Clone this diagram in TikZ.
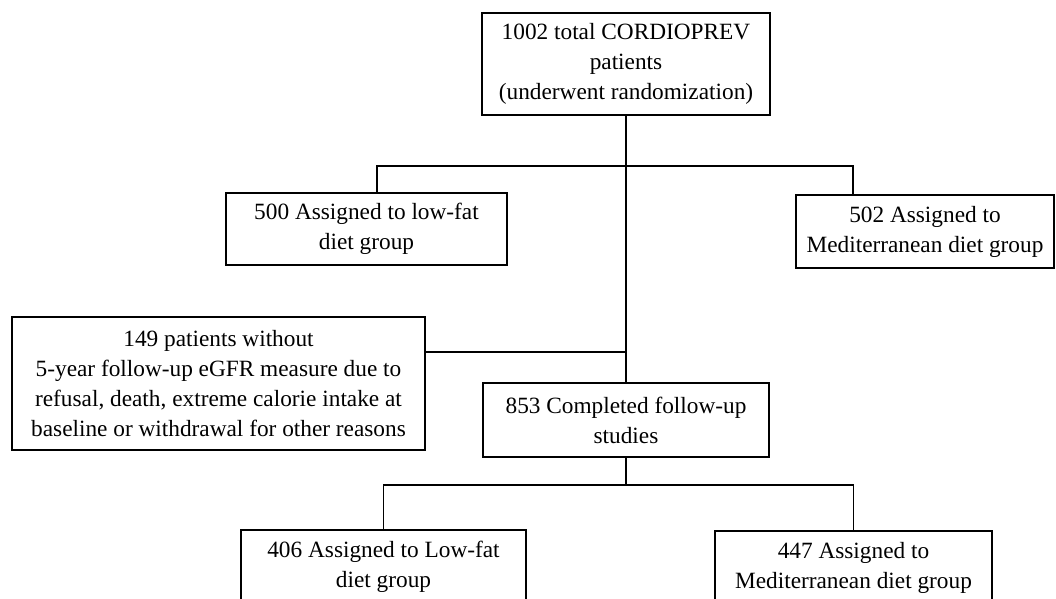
\documentclass[tikz,border=0pt]{standalone}
\usepackage{fontspec}
\setmainfont{Liberation Serif}
\usetikzlibrary{positioning}
\tikzstyle{block} = [rectangle, draw, line width=2pt, align=center,
    inner sep=2pt, font=\fontsize{23.3}{30}\selectfont]
\tikzstyle{link} = [draw, line width=1.2pt]

\begin{document}
\begin{tikzpicture}[x=1pt,y=1pt]
  \useasboundingbox (0,0) rectangle (1056,-598);
  % Place nodes
  \node [block, minimum width=288pt, minimum height=102pt] (total) at (626,-64)
  {1002 total CORDIOPREV\\patients\\(underwent randomization)};
  \node [block, below of=total, node distance=356pt, minimum width=286pt, minimum height=74pt] (completed)
  {853 Completed follow-up\\studies};
  \node [block, minimum width=281pt, minimum height=72pt] (lowfat1) at (366.5,-229)
  {500 Assigned to low-fat\\diet group};
  \node [block, minimum width=258pt, minimum height=73pt] (med1) at (925,-231.5)
  {502 Assigned to\\Mediterranean diet group};
  \node [block, line width=1.3pt, minimum width=413pt, minimum height=133pt] (excluded) at (218.5,-383.5)
  {149 patients without\\5-year follow-up eGFR measure due to\\refusal, death, extreme calorie intake at\\baseline or withdrawal for other reasons};
  \node [block, minimum width=285pt, minimum height=74pt] (lowfat2) at (383.5,-567)
  {406 Assigned to Low-fat\\diet group};
  \node [block, minimum width=277pt, minimum height=73pt] (med2) at (853.5,-567.5)
  {447 Assigned to\\Mediterranean diet group};
  % Branch points
  \coordinate [below of=total, node distance=102pt] (split1);
  \coordinate [below of=completed, node distance=65pt] (split2);
  \coordinate (exjoin) at ([yshift=31.5pt]excluded.east);
  % Draw edges
  \draw [link] (total) -- (completed);
  \draw [link] ([xshift=10.5pt]lowfat1.north) |- (split1) -| ([xshift=-72pt]med1.north);
  \draw [link] (exjoin) -- (exjoin -| total.south);
  \draw [link] (completed.south) -- (split2);
  \draw [link] (lowfat2.north) |- (split2) -| (med2.north);
\end{tikzpicture}
\end{document}
